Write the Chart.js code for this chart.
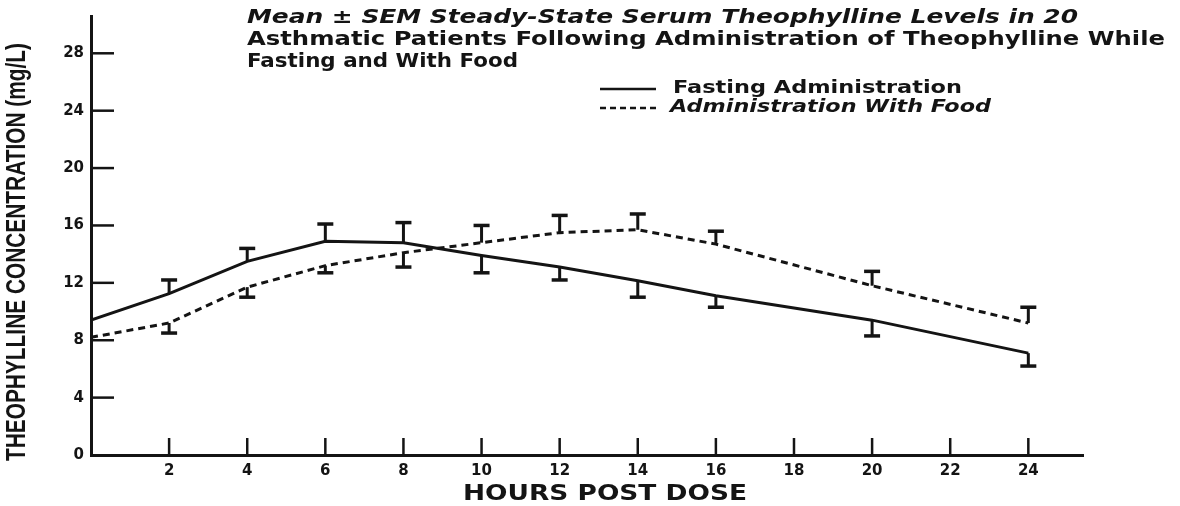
<!DOCTYPE html>
<html>
<head>
<meta charset="utf-8">
<script src="https://cdn.jsdelivr.net/npm/chart.js@4.4.1/dist/chart.umd.min.js"></script>
<style>
  html, body { margin: 0; padding: 0; background: #ffffff; }
  #wrap { width: 1180px; height: 506px; position: relative; }
</style>
</head>
<body>
<div id="wrap"><canvas id="c" width="1180" height="506"></canvas></div>
<script>
// ---- data ----
const hours = [0, 2, 4, 6, 8, 10, 12, 14, 16, 20, 24];
const fastingMean = [9.4, 11.25, 13.5, 14.9, 14.8, 13.9, 13.1, 12.15, 11.1, 9.4, 7.1];
const fastingBarEnd = [null, 12.2, 14.4, 16.1, 16.2, 12.7, 12.2, 11.0, 10.3, 8.3, 6.2];
const foodMean = [8.2, 9.2, 11.7, 13.2, 14.1, 14.8, 15.5, 15.7, 14.7, 11.8, 9.2];
const foodBarEnd = [null, 8.5, 11.0, 12.7, 13.1, 16.0, 16.7, 16.8, 15.6, 12.8, 10.3];
const xTickValues = [2, 4, 6, 8, 10, 12, 14, 16, 18, 20, 22, 24];
const yTickValues = [0, 4, 8, 12, 16, 20, 24, 28];
const titleLines = [
  "Mean \u00b1 SEM Steady-State Serum Theophylline Levels in 20",
  "Asthmatic Patients Following Administration of Theophylline While",
  "Fasting and With Food"
];
const seriesNames = ["Fasting Administration", "Administration With Food"];
const xTitle = "HOURS POST DOSE";
const yTitle = "THEOPHYLLINE CONCENTRATION (mg/L)";

const INK = '#141414';
const FONT = '"DejaVu Sans", sans-serif';

function pts(xs, ys) { return xs.map((x, i) => ({ x: x, y: ys[i] })); }

function fitText(ctx, text, x, y, font, targetW, align) {
  ctx.save();
  ctx.font = font;
  const w = ctx.measureText(text).width;
  const s = targetW / w;
  ctx.translate(x, y);
  ctx.scale(s, 1);
  ctx.textAlign = align || 'left';
  ctx.fillText(text, 0, 0);
  ctx.restore();
}

const decorPlugin = {
  id: 'decor',
  afterDatasetsDraw(chart) {
    const ctx = chart.ctx;
    const xs = chart.scales.x, ys = chart.scales.y;
    ctx.save();
    ctx.strokeStyle = INK;
    ctx.fillStyle = INK;
    ctx.lineCap = 'butt';
    // inward ticks
    ctx.lineWidth = 2.5;
    xTickValues.forEach(v => {
      const px = xs.getPixelForValue(v);
      ctx.beginPath();
      ctx.moveTo(px, ys.bottom);
      ctx.lineTo(px, ys.bottom - 17);
      ctx.stroke();
    });
    yTickValues.forEach(v => {
      if (v === 0) return;
      const py = ys.getPixelForValue(v);
      ctx.beginPath();
      ctx.moveTo(xs.left, py);
      ctx.lineTo(xs.left + 23, py);
      ctx.stroke();
    });
    // error bars
    function bars(means, ends) {
      means.forEach((m, i) => {
        const e = ends[i];
        if (e === null) return;
        const px = xs.getPixelForValue(hours[i]);
        const p1 = ys.getPixelForValue(m);
        const p2 = ys.getPixelForValue(e);
        ctx.lineWidth = 3;
        ctx.beginPath();
        ctx.moveTo(px, p1);
        ctx.lineTo(px, p2);
        ctx.stroke();
        ctx.lineWidth = 3.5;
        ctx.beginPath();
        ctx.moveTo(px - 8, p2);
        ctx.lineTo(px + 8, p2);
        ctx.stroke();
      });
    }
    bars(fastingMean, fastingBarEnd);
    bars(foodMean, foodBarEnd);
    ctx.restore();
  },
  afterDraw(chart) {
    const ctx = chart.ctx;
    ctx.save();
    ctx.fillStyle = INK;
    ctx.strokeStyle = INK;
    ctx.textBaseline = 'middle';
    // title
    fitText(ctx, titleLines[0], 247, 18, 'italic bold 20px ' + FONT, 831);
    fitText(ctx, titleLines[1], 247, 40, 'bold 20px ' + FONT, 918);
    fitText(ctx, titleLines[2], 247, 62, 'bold 20px ' + FONT, 271);
    // legend
    ctx.lineWidth = 2.5;
    ctx.setLineDash([]);
    ctx.beginPath(); ctx.moveTo(600, 89); ctx.lineTo(656, 89); ctx.stroke();
    ctx.setLineDash([6, 4]);
    ctx.beginPath(); ctx.moveTo(600, 108); ctx.lineTo(656, 108); ctx.stroke();
    ctx.setLineDash([]);
    fitText(ctx, seriesNames[0], 673, 88, 'bold 18px ' + FONT, 289);
    fitText(ctx, seriesNames[1], 670, 107, 'italic bold 18px ' + FONT, 321);
    // axis titles
    fitText(ctx, xTitle, 605, 495, 'bold 21px ' + FONT, 284, 'center');
    ctx.save();
    ctx.translate(18, 252);
    ctx.rotate(-Math.PI / 2);
    fitText(ctx, yTitle, 0, 0, 'bold 27px "Liberation Sans", sans-serif', 418, 'center');
    ctx.restore();
    ctx.restore();
  }
};

new Chart(document.getElementById('c'), {
  type: 'line',
  data: {
    datasets: [
      {
        label: seriesNames[0],
        data: pts(hours, fastingMean),
        borderColor: INK,
        borderWidth: 3,
        pointRadius: 0,
        tension: 0,
        fill: false
      },
      {
        label: seriesNames[1],
        data: pts(hours, foodMean),
        borderColor: INK,
        borderWidth: 3,
        borderDash: [7, 5],
        pointRadius: 0,
        tension: 0,
        fill: false
      }
    ]
  },
  plugins: [decorPlugin],
  options: {
    responsive: false,
    animation: false,
    devicePixelRatio: 1,
    layout: { padding: { top: 14, right: 97, left: 0, bottom: 0 } },
    plugins: {
      legend: { display: false },
      title: { display: false },
      tooltip: { enabled: false }
    },
    scales: {
      x: {
        type: 'linear',
        min: 0,
        max: 25.4,
        afterFit(scale) { scale.height = 51; },
        afterBuildTicks(scale) { scale.ticks = xTickValues.map(v => ({ value: v })); },
        grid: { display: true, drawOnChartArea: false, drawTicks: false },
        border: { display: true, width: 3, color: INK },
        ticks: {
          padding: 7,
          color: INK,
          font: { family: FONT, weight: 'bold', size: 15 }
        }
      },
      y: {
        type: 'linear',
        min: 0,
        max: 30.6,
        afterFit(scale) { scale.width = 91; },
        afterBuildTicks(scale) { scale.ticks = yTickValues.map(v => ({ value: v })); },
        grid: { display: true, drawOnChartArea: false, drawTicks: false },
        border: { display: true, width: 3, color: INK },
        ticks: {
          padding: 7,
          color: INK,
          font: { family: FONT, weight: 'bold', size: 15 }
        }
      }
    }
  }
});
</script>
</body>
</html>
